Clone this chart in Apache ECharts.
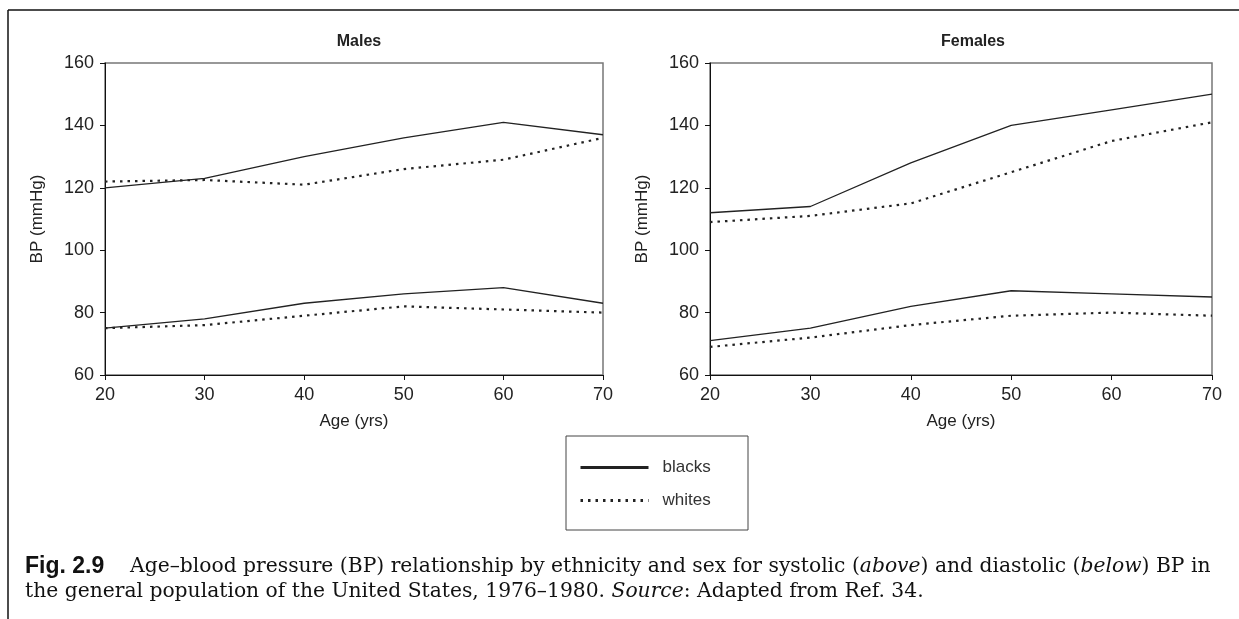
<!DOCTYPE html>
<html>
<head>
<meta charset="utf-8">
<script src="https://cdn.jsdelivr.net/npm/echarts@6/dist/echarts.min.js"></script>
<style>
html,body{margin:0;padding:0;background:#fff;}
#chart{width:1239px;height:619px;}
</style>
</head>
<body>
<div id="chart"></div>
<script>
// ---- Data ----
const ages = [20, 30, 40, 50, 60, 70];
const panelTitles = ['Males', 'Females'];
const seriesNames = ['blacks', 'whites'];
const maleBlackSys = [120, 123, 130, 136, 141, 137];
const maleWhiteSys = [122, 122.5, 121, 126, 129, 136];
const maleBlackDia = [75, 78, 83, 86, 88, 83];
const maleWhiteDia = [75, 76, 79, 82, 81, 80];
const femaleBlackSys = [112, 114, 128, 140, 145, 150];
const femaleWhiteSys = [109, 111, 115, 125, 135, 141];
const femaleBlackDia = [71, 75, 82, 87, 86, 85];
const femaleWhiteDia = [69, 72, 76, 79, 80, 79];
const yTicks = [60, 80, 100, 120, 140, 160];
const xName = 'Age (yrs)';
const yName = 'BP (mmHg)';
const captionLine1 = '{b|Fig. 2.9}    Age\u2013blood pressure (BP) relationship by ethnicity and sex for systolic ({i|above}) and diastolic ({i|below}) BP in';
const captionLine2 = 'the general population of the United States, 1976\u20131980. {i|Source}: Adapted from Ref. 34.';

const chart = echarts.init(document.getElementById('chart'));
const FONT = 'Liberation Sans, Arial, sans-serif';
const TXT = '#222';

function pairs(vals) { return ages.map((a, i) => [a, vals[i]]); }
const solidStyle = { color: '#222', width: 1.3, type: 'solid' };
const dotStyle = { color: '#222', width: 2.2, type: [2.5, 5] };

function mkSeries(name, vals, idx, dotted) {
  return {
    name: name, type: 'line', xAxisIndex: idx, yAxisIndex: idx,
    data: pairs(vals), symbol: 'none', silent: true, animation: false,
    lineStyle: dotted ? dotStyle : solidStyle,
    itemStyle: { color: '#222' }
  };
}

const grids = [
  { left: 105, top: 63, width: 498, height: 312, show: true, borderColor: '#777', borderWidth: 1.5, backgroundColor: 'transparent' },
  { left: 710, top: 63, width: 502, height: 312, show: true, borderColor: '#777', borderWidth: 1.5, backgroundColor: 'transparent' }
];

function xAxis(i) {
  return {
    gridIndex: i, type: 'value', min: 20, max: 70, interval: 10,
    name: xName, nameLocation: 'middle', nameGap: 38,
    nameTextStyle: { fontFamily: FONT, fontSize: 17, color: TXT },
    axisLine: { show: true, lineStyle: { color: '#111', width: 1 } },
    axisTick: { show: true, inside: false, length: 5, lineStyle: { color: '#111' } },
    axisLabel: { fontFamily: FONT, fontSize: 18, color: TXT, margin: 11 },
    splitLine: { show: false }
  };
}
function yAxis(i) {
  return {
    gridIndex: i, type: 'value', min: yTicks[0], max: yTicks[yTicks.length - 1], interval: 20,
    name: yName, nameLocation: 'middle', nameGap: 59,
    nameTextStyle: { fontFamily: FONT, fontSize: 17, color: TXT },
    axisLine: { show: true, lineStyle: { color: '#111', width: 1 } },
    axisTick: { show: true, inside: false, length: 5, lineStyle: { color: '#111' } },
    axisLabel: { fontFamily: FONT, fontSize: 18, color: TXT, margin: 11 },
    splitLine: { show: false }
  };
}

const option = {
  backgroundColor: '#fff',
  animation: false,
  title: [
    { text: panelTitles[0], left: 354, top: 29, textAlign: 'center',
      textStyle: { fontFamily: FONT, fontSize: 16, fontWeight: 'bold', color: TXT } },
    { text: panelTitles[1], left: 968, top: 29, textAlign: 'center',
      textStyle: { fontFamily: FONT, fontSize: 16, fontWeight: 'bold', color: TXT } }
  ],
  grid: grids,
  xAxis: [xAxis(0), xAxis(1)],
  yAxis: [yAxis(0), yAxis(1)],
  legend: {
    data: seriesNames, orient: 'vertical', left: 574, top: 454,
    itemWidth: 68, itemHeight: 14, itemGap: 16,
    selectedMode: false,
    textStyle: { fontFamily: FONT, fontSize: 17, color: '#333', padding: [0, 0, 0, 9] },
    itemStyle: { opacity: 0 },
    lineStyle: { width: 3, opacity: 1 }
  },
  series: [
    mkSeries(seriesNames[0], maleBlackSys, 0, false),
    mkSeries(seriesNames[1], maleWhiteSys, 0, true),
    mkSeries(seriesNames[0], maleBlackDia, 0, false),
    mkSeries(seriesNames[1], maleWhiteDia, 0, true),
    mkSeries(seriesNames[0], femaleBlackSys, 1, false),
    mkSeries(seriesNames[1], femaleWhiteSys, 1, true),
    mkSeries(seriesNames[0], femaleBlackDia, 1, false),
    mkSeries(seriesNames[1], femaleWhiteDia, 1, true)
  ],
  graphic: [
    { type: 'line', shape: { x1: 8, y1: 10, x2: 1239, y2: 10 }, style: { stroke: '#111', lineWidth: 1.5 }, silent: true },
    { type: 'line', shape: { x1: 8, y1: 10, x2: 8, y2: 619 }, style: { stroke: '#111', lineWidth: 1.5 }, silent: true },
    { type: 'rect', shape: { x: 566, y: 436, width: 182, height: 94 }, style: { fill: 'none', stroke: '#444', lineWidth: 1 }, silent: true },
    { type: 'text', left: 25, top: 555, silent: true,
      style: { text: captionLine1, font: '20.3px "DejaVu Serif", serif', fill: '#111',
        rich: {
          b: { fontFamily: FONT, fontWeight: 'bold', fontSize: 23, fill: '#111' },
          i: { fontFamily: 'DejaVu Serif', fontStyle: 'italic', fontSize: 20.3, fill: '#111' }
        } } },
    { type: 'text', left: 25, top: 582, silent: true,
      style: { text: captionLine2, font: '20.3px "DejaVu Serif", serif', fill: '#111',
        rich: {
          i: { fontFamily: 'DejaVu Serif', fontStyle: 'italic', fontSize: 20.3, fill: '#111' }
        } } }
  ]
};
chart.setOption(option);
</script>
</body>
</html>
